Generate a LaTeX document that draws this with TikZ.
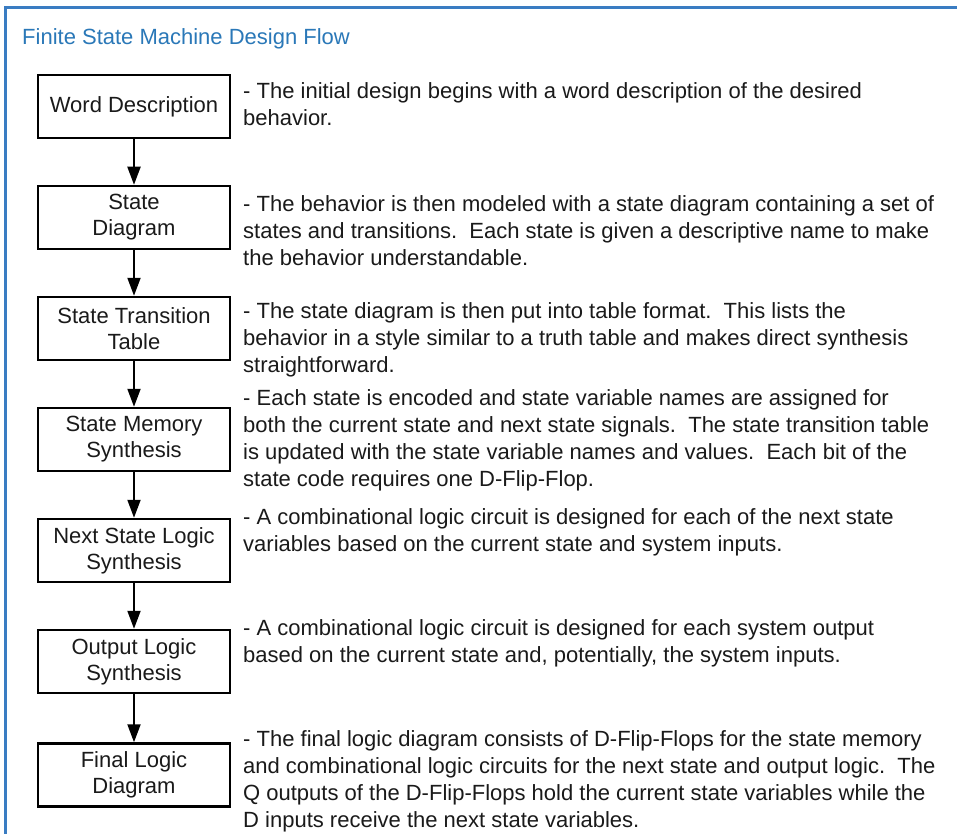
\documentclass[tikz,border=0pt]{standalone}
\usepackage{fontspec}
\setmainfont{Liberation Sans}
\usetikzlibrary{arrows.meta}
\definecolor{frameblue}{HTML}{3A7CC2}
\definecolor{titleblue}{HTML}{2A78B8}
\definecolor{txt}{HTML}{1A1A1A}
\tikzset{
  stepbox/.style={draw=black, line width=2.5pt, minimum width=192pt, minimum height=63pt,
    align=center, inner sep=2pt, font=\fontsize{22}{26}\selectfont, text=txt},
  desc/.style={anchor=west, align=left, inner sep=0pt, font=\fontsize{22}{27}\selectfont, text=txt},
  flowarrow/.style={line width=2pt, -{Triangle[width=13pt,length=18pt]}}
}
\begin{document}
\begin{tikzpicture}[x=1pt,y=-1pt]
\useasboundingbox (0,0) rectangle (957,834);
\fill[white] (0,0) rectangle (957,834);
\draw[frameblue, line width=3pt] (5,834) -- (5,8) -- (957,8);
\node[anchor=base west, inner sep=0pt, text=titleblue, font=\fontsize{22}{26}\selectfont] (title) at (22,45) {Finite State Machine Design Flow};

\node[stepbox] (b1) at (134,106.5) {Word Description};
\node[stepbox] (b2) at (134,217.5) {State\\Diagram};
\node[stepbox] (b3) at (134,328.5) {State Transition\\Table};
\node[stepbox] (b4) at (134,439.5) {State Memory\\Synthesis};
\node[stepbox] (b5) at (134,550.5) {Next State Logic\\Synthesis};
\node[stepbox] (b6) at (134,661.5) {Output Logic\\Synthesis};
\node[stepbox] (b7) at (134,775) {Final Logic\\Diagram};

\draw[flowarrow] (b1) -- (b2);
\draw[flowarrow] (b2) -- (b3);
\draw[flowarrow] (b3) -- (b4);
\draw[flowarrow] (b4) -- (b5);
\draw[flowarrow] (b5) -- (b6);
\draw[flowarrow] (b6) -- (b7);

\node[desc] (d1) at (243,104) {- The initial design begins with a word description of the desired\\behavior.};
\node[desc] (d2) at (243,231) {- The behavior is then modeled with a state diagram containing a set of\\states and transitions.\ \ Each state is given a descriptive name to make\\the behavior understandable.};
\node[desc] (d3) at (243,340) {- The state diagram is then put into table format.\ \ This lists the\\behavior in a style similar to a truth table and makes direct synthesis\\straightforward.};
\node[desc] (d4) at (243,440) {- Each state is encoded and state variable names are assigned for\\both the current state and next state signals.\ \ The state transition table\\is updated with the state variable names and values.\ \ Each bit of the\\state code requires one D-Flip-Flop.};
\node[desc] (d5) at (243,532) {- A combinational logic circuit is designed for each of the next state\\variables based on the current state and system inputs.};
\node[desc] (d6) at (243,643.5) {- A combinational logic circuit is designed for each system output\\based on the current state and, potentially, the system inputs.};
\node[desc] (d7) at (243,781) {- The final logic diagram consists of D-Flip-Flops for the state memory\\and combinational logic circuits for the next state and output logic.\ \ The\\Q outputs of the D-Flip-Flops hold the current state variables while the\\D inputs receive the next state variables.};
\end{tikzpicture}
\end{document}
